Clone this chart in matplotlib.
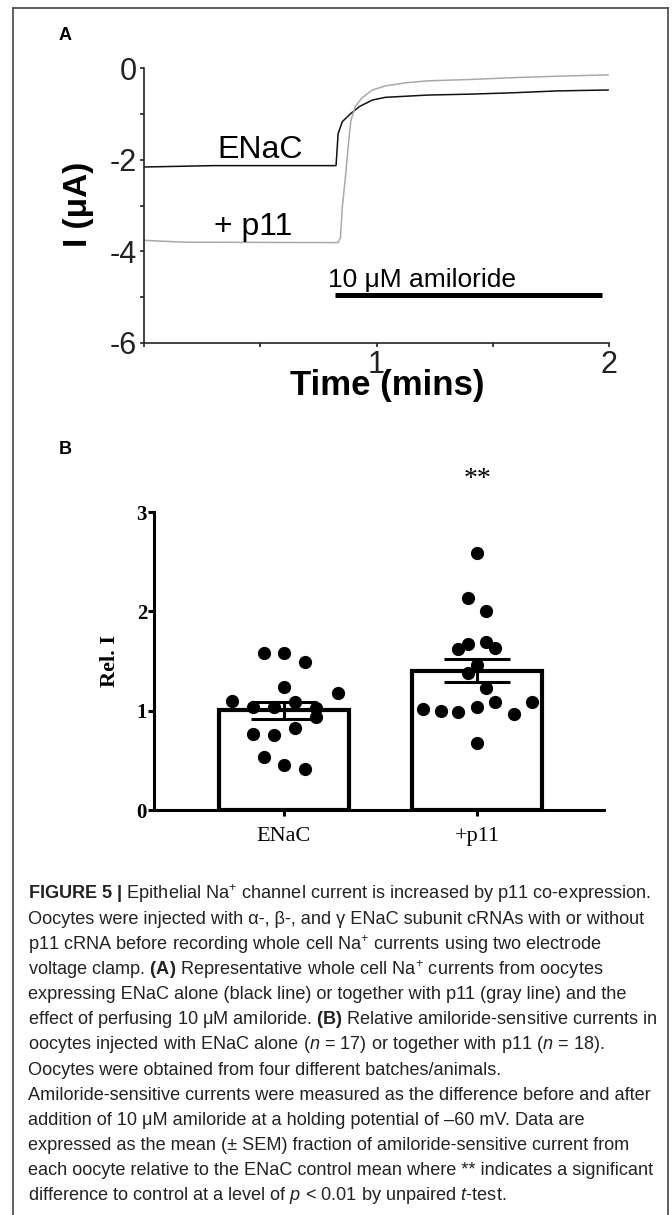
import numpy as np
import matplotlib
matplotlib.use("Agg")
import matplotlib.pyplot as plt
from matplotlib import font_manager
from matplotlib.lines import Line2D

# ---- panel A: representative traces, time (min) vs current (uA)
enac_t = [0.0, 0.30, 0.826, 0.835, 0.853, 0.890, 0.927, 0.982, 1.038, 1.222, 1.406, 1.591, 1.775, 1.996]
enac_i = [-2.16, -2.13, -2.13, -1.43, -1.17, -0.99, -0.84, -0.70, -0.64, -0.59, -0.57, -0.54, -0.50, -0.48]
p11_t = [0.0, 0.17, 0.835, 0.845, 0.853, 0.868, 0.881, 0.890, 0.909, 0.936, 0.982, 1.038,
         1.130, 1.222, 1.406, 1.591, 1.775, 1.996]
p11_i = [-3.76, -3.80, -3.81, -3.70, -3.03, -2.29, -1.57, -1.14, -0.84, -0.66, -0.48, -0.39,
         -0.32, -0.28, -0.25, -0.21, -0.18, -0.15]
amiloride_t = [0.82, 1.97]
amiloride_level = -4.96

# ---- panel B: relative amiloride-sensitive current per oocyte
groups = ["ENaC", "+p11"]
enac_rel = [1.58, 1.58, 1.49, 1.24, 1.18, 1.10, 1.04, 1.04, 1.09, 1.03, 0.94, 0.83, 0.77, 0.76, 0.53, 0.45, 0.41]
enac_jit = [-0.106, 0.0, 0.111, 0.0, 0.277, -0.272, -0.159, -0.051, 0.055, 0.166, 0.166, 0.055,
            -0.159, -0.051, -0.106, 0.0, 0.111]
p11_rel = [2.59, 2.13, 2.00, 1.67, 1.69, 1.62, 1.63, 1.46, 1.38, 1.23, 1.02, 1.00, 0.99, 1.04,
           1.09, 1.09, 0.97, 0.67]
p11_jit = [0.0, -0.049, 0.046, -0.049, 0.046, -0.097, 0.095, 0.0, -0.049, 0.046, -0.281, -0.188,
           -0.097, 0.0, 0.095, 0.283, 0.190, 0.0]

caption = [
    r"$\mathbf{FIGURE\ 5\ |}$ Epithelial Na$^{+}$ channel current is increased by p11 co-expression.",
    "Oocytes were injected with α-, β-, and γ ENaC subunit cRNAs with or without",
    r"p11 cRNA before recording whole cell Na$^{+}$ currents using two electrode",
    r"voltage clamp. $\mathbf{(A)}$ Representative whole cell Na$^{+}$ currents from oocytes",
    "expressing ENaC alone (black line) or together with p11 (gray line) and the",
    r"effect of perfusing 10 μM amiloride. $\mathbf{(B)}$ Relative amiloride-sensitive currents in",
    r"oocytes injected with ENaC alone ($\mathit{n}$ = 17) or together with p11 ($\mathit{n}$ = 18).",
    "Oocytes were obtained from four different batches/animals.",
    "Amiloride-sensitive currents were measured as the difference before and after",
    "addition of 10 μM amiloride at a holding potential of –60 mV. Data are",
    "expressed as the mean (± SEM) fraction of amiloride-sensitive current from",
    "each oocyte relative to the ENaC control mean where ** indicates a significant",
    r"difference to control at a level of $\mathit{p}$ < 0.01 by unpaired $\mathit{t}$-test.",
]

avail = {f.name for f in font_manager.fontManager.ttflist}
narrow = "Liberation Sans Narrow" if "Liberation Sans Narrow" in avail else "Liberation Sans"
serif = "Liberation Serif"

plt.rcParams["mathtext.fontset"] = "custom"
plt.rcParams["mathtext.rm"] = narrow
plt.rcParams["mathtext.it"] = narrow + ":italic"
plt.rcParams["mathtext.bf"] = narrow + ":bold"

W, H = 672, 1215


def box(x0, y0, x1, y1):
    return [x0 / W, 1 - y1 / H, (x1 - x0) / W, (y1 - y0) / H]


fig = plt.figure(figsize=(W / 100, H / 100), dpi=100)

# outer frame (open at the bottom)
for xs, ys in [([13, 13], [1215, 8]), ([13, 668], [8, 8]), ([668, 668], [8, 1215])]:
    fig.add_artist(Line2D([x / W for x in xs], [1 - y / H for y in ys], color="#444444", lw=1.2))

# ---------------- panel A
fig.text(59 / W, 1 - 36 / H, "A", fontsize=13, fontweight="bold", family="Liberation Sans", va="center")
axA = fig.add_axes(box(144, 68, 609, 343))
axA.plot(enac_t, enac_i, color="#111111", lw=1.1)
axA.plot(p11_t, p11_i, color="#a9a9a9", lw=1.1)
axA.plot(amiloride_t, [amiloride_level] * 2, color="black", lw=3.6, solid_capstyle="butt")
axA.text(0.50, -1.79, "ENaC", ha="center", va="center", fontsize=23, family=narrow)
axA.text(0.47, -3.47, "+ p11", ha="center", va="center", fontsize=23, family=narrow)
axA.text(0.79, -4.63, "10 μM amiloride", ha="left", va="center", fontsize=19, family=[narrow, "DejaVu Sans"])
axA.set_xlim(0, 2)
axA.set_ylim(-6, 0)
for s in ["top", "right"]:
    axA.spines[s].set_visible(False)
for s in ["left", "bottom"]:
    axA.spines[s].set_linewidth(1.2)
    axA.spines[s].set_color("#222222")
axA.set_xticks([0, 0.5, 1, 1.5, 2])
axA.set_xticklabels(["", "", "1", "", "2"])
axA.set_yticks([0, -1, -2, -3, -4, -5, -6])
axA.set_yticklabels(["0", "", "-2", "", "-4", "", "-6"])
axA.tick_params(length=3, width=1.2, pad=2, labelsize=22, colors="#222222")
for lab in axA.get_xticklabels() + axA.get_yticklabels():
    lab.set_family(narrow)
axA.set_xlabel("Time (mins)", fontsize=25, fontweight="bold", family=narrow)
axA.xaxis.set_label_coords(0.523, -0.095)
fig.text(78 / W, 1 - 204 / H, "I (μA)", rotation=90, ha="center", va="center",
         fontsize=24, fontweight="bold", family=[narrow, "DejaVu Sans"])

# ---------------- panel B
fig.text(59 / W, 1 - 449 / H, "B", fontsize=13, fontweight="bold", family="Liberation Sans", va="center")
axB = fig.add_axes(box(154, 512, 604, 810))
values = [enac_rel, p11_rel]
jits = [enac_jit, p11_jit]
means = [np.mean(v) for v in values]
sems = [np.std(v, ddof=1) / np.sqrt(len(v)) for v in values]
xpos = np.arange(len(groups))
axB.bar(xpos, means, width=0.674, facecolor="white", edgecolor="black", linewidth=3, zorder=2)
for i in range(len(groups)):
    axB.plot(xpos[i] + np.array(jits[i]), values[i], "o", color="black", ms=8.5, zorder=3)
axB.errorbar(xpos, means, yerr=sems, fmt="none", ecolor="black", elinewidth=2.2,
             capsize=24, capthick=2.2, zorder=4)
axB.text(1, 3.33, "**", ha="center", va="center", fontsize=20, family=serif)
axB.set_xlim(-0.674, 1.658)
axB.set_ylim(0, 3)
for s in ["top", "right"]:
    axB.spines[s].set_visible(False)
for s in ["left", "bottom"]:
    axB.spines[s].set_linewidth(2.2)
axB.set_yticks([0, 1, 2, 3])
axB.set_yticklabels(["0", "1", "2", "3"], fontsize=15, fontweight="bold", family=serif)
axB.set_xticks(xpos)
axB.set_xticklabels(groups, fontsize=16, family=serif)
axB.tick_params(axis="y", length=4, width=2.2, pad=1)
axB.tick_params(axis="x", length=4, width=2.2, pad=8)
axB.set_ylabel("Rel. I", fontsize=16, fontweight="bold", family=serif)
axB.yaxis.set_label_coords(-0.076, 0.5)

# ---------------- caption, sized so the longest line spans the column
cap_texts = []
for k, line in enumerate(caption):
    cap_texts.append(fig.text(28 / W, 1 - (894 + 25.15 * k) / H, line, ha="left", va="center",
                              fontsize=12, family=[narrow, "DejaVu Sans"], color="#222222"))
fig.canvas.draw()
w0 = max(t.get_window_extent().width for t in cap_texts)
for t in cap_texts:
    t.set_fontsize(12 * 627 / w0)

fig.savefig("out.png", dpi=100)
